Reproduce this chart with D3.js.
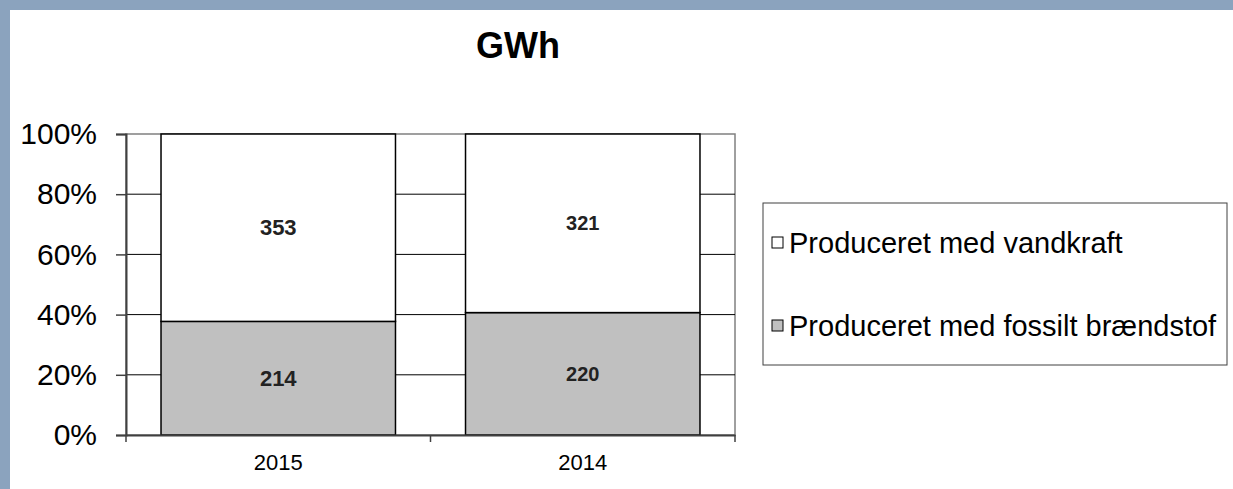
<!DOCTYPE html>
<html>
<head>
<meta charset="utf-8">
<script src="https://cdn.jsdelivr.net/npm/d3@7"></script>
<style>
  body { margin: 0; background: #8ba3be; }
  svg { display: block; font-family: "Liberation Sans", Arial, sans-serif; }
</style>
</head>
<body>
<div id="chart"></div>
<script>
// data
const years = ["2015", "2014"];
const fossil = [214, 220];   // Produceret med fossilt brændstof
const hydro = [353, 321];    // Produceret med vandkraft
const seriesNames = ["Produceret med vandkraft", "Produceret med fossilt brændstof"];
const yTicks = [0, 0.2, 0.4, 0.6, 0.8, 1];

const width = 1233, height = 489;
const plot = { left: 126, right: 735, top: 134, bottom: 435 };

const svg = d3.select("#chart").append("svg")
    .attr("width", width)
    .attr("height", height);

// frame
svg.append("rect").attr("width", width).attr("height", height).attr("fill", "#8ba3be");
svg.append("rect").attr("x", 10).attr("y", 10)
    .attr("width", width - 10).attr("height", height - 10)
    .attr("fill", "#ffffff");

// title
svg.append("text")
    .attr("x", 518).attr("y", 58)
    .attr("text-anchor", "middle")
    .attr("font-size", 36).attr("font-weight", "bold")
    .text("GWh");

const x = d3.scaleBand()
    .domain(years)
    .range([plot.left, plot.right])
    .paddingInner(0.23)
    .paddingOuter(0.115);

const y = d3.scaleLinear().domain([0, 1]).range([plot.bottom, plot.top]);

// plot area border
svg.append("rect")
    .attr("x", plot.left).attr("y", plot.top)
    .attr("width", plot.right - plot.left).attr("height", plot.bottom - plot.top)
    .attr("fill", "none").attr("stroke", "#808080").attr("stroke-width", 1.5);

// gridlines
svg.append("g").selectAll("line")
    .data(yTicks.slice(1, -1))
    .enter().append("line")
    .attr("x1", plot.left).attr("x2", plot.right)
    .attr("y1", d => y(d)).attr("y2", d => y(d))
    .attr("stroke", "#000").attr("stroke-width", 1);

// stacked percentages
const rows = years.map((yr, i) => {
    const total = fossil[i] + hydro[i];
    return { year: yr, i: i, fossil: fossil[i], hydro: hydro[i],
             fp: fossil[i] / total, hp: hydro[i] / total };
});

const labelSize = [22, 20];

const bars = svg.append("g").selectAll("g")
    .data(rows)
    .enter().append("g");

// fossil (bottom)
bars.append("rect")
    .attr("x", d => x(d.year)).attr("width", x.bandwidth())
    .attr("y", d => y(d.fp)).attr("height", d => y(0) - y(d.fp))
    .attr("fill", "#c0c0c0").attr("stroke", "#000").attr("stroke-width", 1.5);

// hydro (top)
bars.append("rect")
    .attr("x", d => x(d.year)).attr("width", x.bandwidth())
    .attr("y", d => y(d.fp + d.hp)).attr("height", d => y(d.fp) - y(d.fp + d.hp))
    .attr("fill", "#ffffff").attr("stroke", "#000").attr("stroke-width", 1.5);

bars.append("text")
    .attr("x", d => x(d.year) + x.bandwidth() / 2)
    .attr("y", d => (y(0) + y(d.fp)) / 2)
    .attr("dy", "0.35em")
    .attr("text-anchor", "middle")
    .attr("font-weight", "bold")
    .attr("font-size", d => labelSize[d.i])
    .attr("fill", "#222")
    .text(d => d.fossil);

bars.append("text")
    .attr("x", d => x(d.year) + x.bandwidth() / 2)
    .attr("y", d => (y(d.fp) + y(d.fp + d.hp)) / 2)
    .attr("dy", "0.35em")
    .attr("text-anchor", "middle")
    .attr("font-weight", "bold")
    .attr("font-size", d => labelSize[d.i])
    .attr("fill", "#222")
    .text(d => d.hydro);

// y axis
const yAxis = svg.append("g")
    .attr("transform", `translate(${plot.left},0)`)
    .call(d3.axisLeft(y).tickValues(yTicks).tickFormat(d3.format(".0%"))
        .tickSize(10).tickPadding(19));
yAxis.select(".domain").attr("stroke", "#404040").attr("stroke-width", 2);
yAxis.selectAll(".tick line").attr("stroke", "#404040").attr("stroke-width", 1.5);
yAxis.selectAll("text").attr("font-size", 30).attr("fill", "#000")
    .attr("font-family", "Liberation Sans, Arial, sans-serif");

// x axis
const xAxis = svg.append("g")
    .attr("transform", `translate(0,${plot.bottom})`)
    .call(d3.axisBottom(x).tickSize(0).tickPadding(19));
xAxis.select(".domain").attr("stroke", "#404040").attr("stroke-width", 2);
xAxis.selectAll("text").attr("font-size", 22).attr("fill", "#000")
    .attr("font-family", "Liberation Sans, Arial, sans-serif");

// category boundary ticks
const bounds = d3.range(years.length + 1).map(k => plot.left + k * x.step() - (k === years.length ? 0 : 0));
svg.append("g").selectAll("line")
    .data(bounds)
    .enter().append("line")
    .attr("x1", d => d).attr("x2", d => d)
    .attr("y1", plot.bottom).attr("y2", plot.bottom + 7)
    .attr("stroke", "#404040").attr("stroke-width", 1.5);

// legend
const legend = svg.append("g");
legend.append("rect")
    .attr("x", 763).attr("y", 203).attr("width", 464).attr("height", 162)
    .attr("fill", "#fff").attr("stroke", "#404040").attr("stroke-width", 1);

const legendFill = ["#ffffff", "#c0c0c0"];
const legendY = [243, 326];
const items = legend.selectAll("g.item")
    .data(seriesNames)
    .enter().append("g").attr("class", "item")
    .attr("transform", (d, i) => `translate(772,${legendY[i]})`);
items.append("rect")
    .attr("x", 0).attr("y", -6).attr("width", 11).attr("height", 11)
    .attr("fill", (d, i) => legendFill[i]).attr("stroke", "#000").attr("stroke-width", 1);
items.append("text")
    .attr("x", 17).attr("dy", "0.35em")
    .attr("font-size", 29)
    .text(d => d);
</script>
</body>
</html>
